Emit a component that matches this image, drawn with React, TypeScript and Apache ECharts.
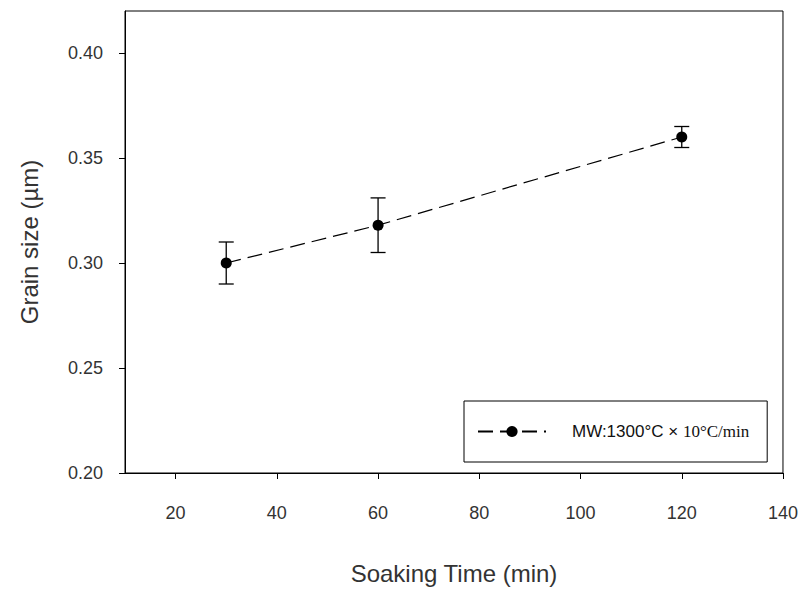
import React, { useEffect, useRef } from 'react';
import * as echarts from 'echarts';

const soakingTime = [30, 60, 120];
const grainSize = [0.3, 0.318, 0.36];
const errLow = [0.29, 0.305, 0.355];
const errHigh = [0.31, 0.331, 0.365];
const xTicks = [20, 40, 60, 80, 100, 120, 140];
const yTicks = [0.2, 0.25, 0.3, 0.35, 0.4];
const legendParts = ['MW:1300°C × ', '10°C/min'];
const seriesName = legendParts.join('');
const xTitle = 'Soaking Time (min)';
const yTitle = 'Grain size (µm)';

export default function App() {
  const ref = useRef<HTMLDivElement>(null);
  useEffect(() => {
    const chart = echarts.init(ref.current as HTMLDivElement, null, { renderer: 'svg' });
    const sans = "'Liberation Sans', Arial, Helvetica, sans-serif";
    const serif = "'Liberation Serif', 'Times New Roman', serif";
    const axisCommon = {
      axisLine: { show: true, lineStyle: { color: '#000', width: 1 } },
      axisTick: { show: true, inside: false, length: 6, lineStyle: { color: '#000', width: 1 } },
      splitLine: { show: false },
    };
    chart.setOption({
      animation: false,
      backgroundColor: '#ffffff',
      grid: {
        left: 125,
        top: 11,
        right: 17,
        bottom: 121,
        show: true,
        borderColor: '#000',
        borderWidth: 1,
        backgroundColor: 'transparent',
      },
      xAxis: {
        type: 'value',
        min: 10,
        max: 140,
        ...axisCommon,
        axisTick: { ...axisCommon.axisTick, customValues: xTicks },
        axisLabel: {
          customValues: xTicks,
          margin: 31,
          fontFamily: sans,
          fontSize: 18,
          color: '#333',
        },
        name: xTitle,
        nameLocation: 'middle',
        nameGap: 88,
        nameTextStyle: { fontFamily: sans, fontSize: 24, color: '#333' },
      },
      yAxis: {
        type: 'value',
        min: 0.2,
        max: 0.42,
        ...axisCommon,
        axisTick: { ...axisCommon.axisTick, customValues: yTicks },
        axisLabel: {
          customValues: yTicks,
          margin: 22,
          fontFamily: sans,
          fontSize: 18,
          color: '#333',
          formatter: (v: number) => v.toFixed(2),
        },
        name: yTitle,
        nameLocation: 'middle',
        nameGap: 84,
        nameTextStyle: { fontFamily: sans, fontSize: 24, color: '#333' },
      },
      legend: {
        data: [seriesName],
        left: 464,
        top: 401,
        orient: 'horizontal',
        padding: [22, 18, 22, 13],
        borderColor: '#000',
        borderWidth: 1,
        borderRadius: 0,
        backgroundColor: '#fff',
        itemWidth: 68,
        itemHeight: 14,
        selectedMode: false,
        formatter: () => `{a|${legendParts[0]}}{b|${legendParts[1]}}`,
        textStyle: {
          rich: {
            a: { fontFamily: sans, fontSize: 17, color: '#111', padding: [0, 0, 0, 21] },
            b: { fontFamily: serif, fontSize: 17, color: '#111' },
          },
        },
      },
      series: [
        {
          type: 'custom',
          name: 'error',
          z: 2,
          data: soakingTime.map((x, i) => [x, errLow[i], errHigh[i]]),
          encode: { x: 0, y: [1, 2] },
          renderItem: (_params: any, api: any) => {
            const x = api.value(0);
            const lo = api.coord([x, api.value(1)]);
            const hi = api.coord([x, api.value(2)]);
            const w = 7.5;
            const st = { stroke: '#000', lineWidth: 1.3, fill: 'none' };
            return {
              type: 'group',
              children: [
                { type: 'line', shape: { x1: lo[0], y1: lo[1], x2: hi[0], y2: hi[1] }, style: st },
                { type: 'line', shape: { x1: lo[0] - w, y1: lo[1], x2: lo[0] + w, y2: lo[1] }, style: st },
                { type: 'line', shape: { x1: hi[0] - w, y1: hi[1], x2: hi[0] + w, y2: hi[1] }, style: st },
              ],
            };
          },
        },
        {
          type: 'line',
          name: seriesName,
          z: 3,
          data: soakingTime.map((x, i) => [x, grainSize[i]]),
          symbol: 'circle',
          symbolSize: 11,
          itemStyle: { color: '#000' },
          lineStyle: { color: '#000', width: 1.2, type: [15, 7] },
        },
      ],
    });
    return () => chart.dispose();
  }, []);
  return (
    <div
      ref={ref}
      style={{ position: 'absolute', left: 0, top: 0, width: 801, height: 594 }}
    />
  );
}
